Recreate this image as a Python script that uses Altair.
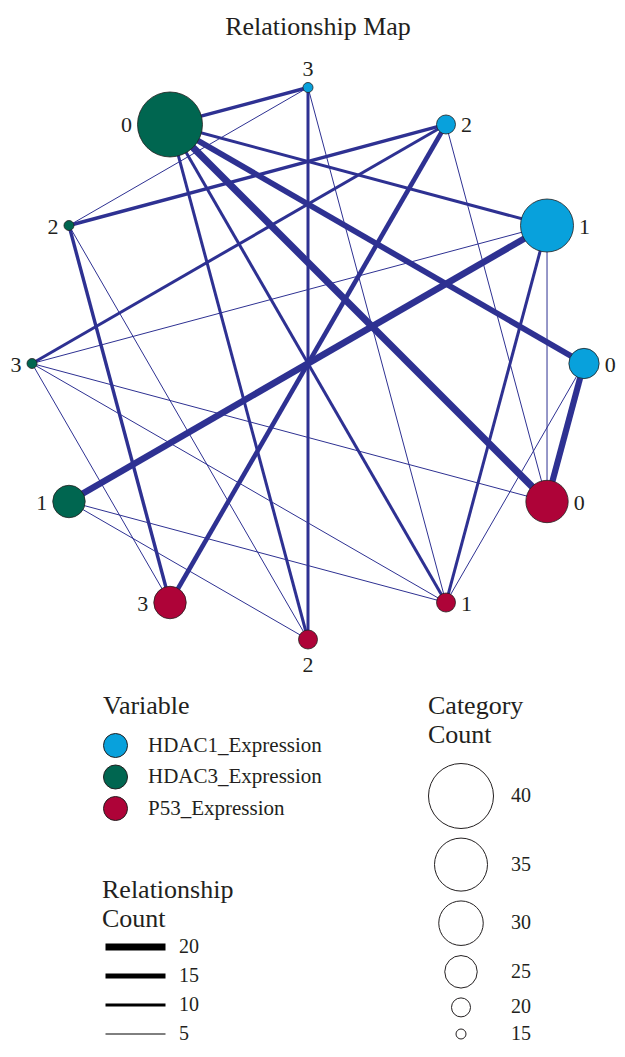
import numpy as np
import pandas as pd
import altair as alt

# ---------------- data ----------------
# nodes listed clockwise, starting at the top of the ring
node_id = ["HDAC1_3", "HDAC1_2", "HDAC1_1", "HDAC1_0",
           "P53_0", "P53_1", "P53_2", "P53_3",
           "HDAC3_1", "HDAC3_3", "HDAC3_2", "HDAC3_0"]
node_variable = ["HDAC1_Expression"] * 4 + ["P53_Expression"] * 4 + ["HDAC3_Expression"] * 4
node_category = ["3", "2", "1", "0", "0", "1", "2", "3", "1", "3", "2", "0"]
node_count = [15, 20, 35, 24, 29, 20, 20, 25, 25, 15, 15, 40]

edge_source = ["HDAC3_0", "HDAC3_0", "HDAC3_0", "HDAC3_0", "HDAC3_0", "HDAC3_0",
               "HDAC3_1", "HDAC3_1", "HDAC3_1",
               "HDAC3_2", "HDAC3_2", "HDAC3_2", "HDAC3_2",
               "HDAC3_3", "HDAC3_3", "HDAC3_3", "HDAC3_3", "HDAC3_3",
               "HDAC1_0", "HDAC1_0", "HDAC1_1", "HDAC1_1",
               "HDAC1_2", "HDAC1_2", "HDAC1_3", "HDAC1_3"]
edge_target = ["HDAC1_3", "HDAC1_1", "HDAC1_0", "P53_0", "P53_1", "P53_2",
               "HDAC1_1", "P53_1", "P53_2",
               "HDAC1_3", "HDAC1_2", "P53_3", "P53_2",
               "HDAC1_2", "HDAC1_1", "P53_0", "P53_1", "P53_3",
               "P53_0", "P53_1", "P53_1", "P53_0",
               "P53_3", "P53_0", "P53_2", "P53_1"]
edge_count = [11, 10, 17, 20, 10, 10,
              19, 5, 5,
              5, 11, 11, 5,
              10, 5, 5, 5, 5,
              18, 5, 10, 5,
              14, 5, 10, 5]

variable_names = ["HDAC1_Expression", "HDAC3_Expression", "P53_Expression"]
variable_colors = ["#08A1DC", "#006650", "#AE0338"]

size_values = [40, 35, 30, 25, 20, 15]
width_values = [20, 15, 10, 5]

# ---------------- styling / scales ----------------
FONT = "Liberation Serif"
TEXT = "#231F20"
EDGE = "#2E3192"
size_domain = [15, 20, 25, 30, 35, 40]
size_range = [100, 361, 1056, 1980, 2809, 4225]   # symbol areas (px^2)

PX = 276.0          # ring radius in pixels
W, H = 608, 637
CX, CY = 300.0, 318.5   # ring centre inside the plot area (pixels)
xdom = [-CX / PX, (W - CX) / PX]
ydom = [-(H - CY) / PX, CY / PX]

# ---------------- circular layout ----------------
n = len(node_id)
ang = np.pi / 2 - 2 * np.pi * np.arange(n) / n
nx = np.cos(ang)
ny = np.sin(ang)
nodes = pd.DataFrame({"id": node_id, "variable": node_variable,
                      "category": node_category, "count": node_count,
                      "x": nx, "y": ny})

# label placement just outside each circle
r_px = np.sqrt(np.interp(nodes["count"], size_domain, size_range)) / 2
lx, ly = [], []
for xi, yi, r in zip(nx, ny, r_px):
    if abs(xi) < 0.1:
        off = (r + 7 + 8) / PX
        lx.append(xi)
        ly.append(yi + off if yi > 0 else yi - off)
    else:
        off = (r + 5.5 + 5.5) / PX
        lx.append(xi + off if xi > 0 else xi - off)
        ly.append(yi)
nodes["lx"] = lx
nodes["ly"] = ly

pos = nodes.set_index("id")
edges = pd.DataFrame({"source": edge_source, "target": edge_target, "count": edge_count})
edges["x"] = pos.loc[edges["source"], "x"].values
edges["y"] = pos.loc[edges["source"], "y"].values
edges["x2"] = pos.loc[edges["target"], "x"].values
edges["y2"] = pos.loc[edges["target"], "y"].values
edges = edges.sort_values("count").reset_index(drop=True)

xs = alt.Scale(domain=xdom, nice=False, zero=False)
ys = alt.Scale(domain=ydom, nice=False, zero=False)

edge_layer = alt.Chart(edges).mark_rule(color=EDGE, strokeCap="butt").encode(
    x=alt.X("x:Q", scale=xs, axis=None),
    y=alt.Y("y:Q", scale=ys, axis=None),
    x2="x2:Q",
    y2="y2:Q",
    strokeWidth=alt.StrokeWidth(
        "count:Q",
        scale=alt.Scale(domain=[5, 20], range=[1, 7], zero=False, nice=False),
        legend=alt.Legend(
            title=["Relationship", "Count"], orient="none", legendX=94, legendY=832,
            values=width_values, symbolType="stroke", symbolSize=3600,
            symbolStrokeColor="black", labelOffset=10, rowPadding=9, clipHeight=20,
            titlePadding=5, labelFontSize=20,
        ),
    ),
)

node_layer = alt.Chart(nodes).mark_circle(
    stroke=TEXT, strokeWidth=0.8, opacity=1
).encode(
    x=alt.X("x:Q", scale=xs, axis=None),
    y=alt.Y("y:Q", scale=ys, axis=None),
    fill=alt.Fill(
        "variable:N",
        scale=alt.Scale(domain=variable_names, range=variable_colors),
        legend=alt.Legend(
            title="Variable", orient="none", legendX=95, legendY=648,
            symbolType="circle", symbolSize=576, symbolStrokeColor=TEXT,
            symbolStrokeWidth=1, labelOffset=20, rowPadding=2.5,
            titlePadding=14, labelFontSize=21,
        ),
    ),
    size=alt.Size(
        "count:Q",
        scale=alt.Scale(domain=size_domain, range=size_range, zero=False, nice=False),
        legend=alt.Legend(
            title=["Category", "Count"], orient="none", legendX=420, legendY=648,
            values=size_values, symbolType="circle", symbolFillColor="white",
            symbolStrokeColor=TEXT, symbolStrokeWidth=1, labelOffset=17,
            rowPadding=4.6, titlePadding=15, labelFontSize=20,
        ),
    ),
)

label_layer = alt.Chart(nodes).mark_text(
    font=FONT, fontSize=22, color=TEXT, align="center", baseline="middle", dy=1
).encode(
    x=alt.X("lx:Q", scale=xs, axis=None),
    y=alt.Y("ly:Q", scale=ys, axis=None),
    text="category:N",
)

chart = alt.layer(edge_layer, node_layer, label_layer).properties(
    width=W,
    height=H,
    autosize=alt.AutoSizeParams(type="none"),
    padding={"left": 0, "top": 37, "right": 1, "bottom": 362},
    title=alt.TitleParams(
        "Relationship Map", font=FONT, fontSize=26, fontWeight="normal",
        color=TEXT, anchor="middle", baseline="alphabetic", offset=12, dx=6, dy=28,
    ),
).configure_view(stroke=None).configure_legend(
    titleFont=FONT, labelFont=FONT, titleFontWeight="normal", titleFontSize=26,
    titleColor=TEXT, labelColor=TEXT, padding=0, labelLimit=400, titleLimit=400,
    titleLineHeight=29, titlePadding=10, titleAnchor="start",
)

chart.save("out.html", embed_options={"renderer": "svg", "actions": False})
